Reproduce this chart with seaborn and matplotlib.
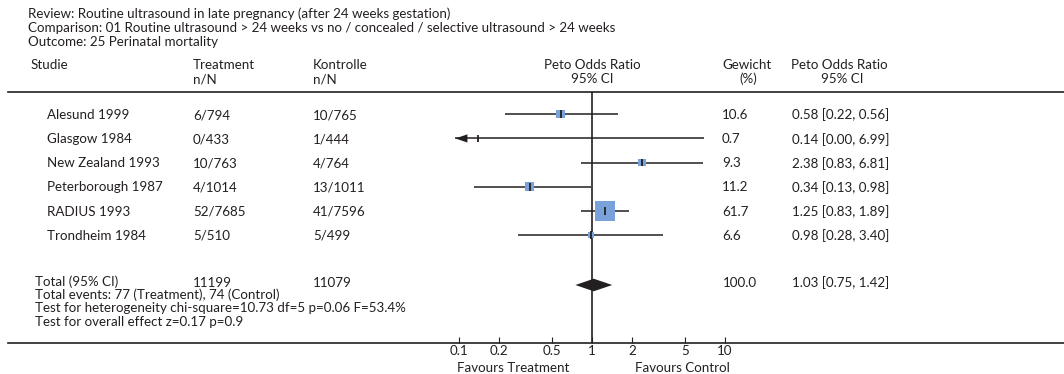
import numpy as np
import pandas as pd
import matplotlib
matplotlib.use("Agg")
import matplotlib.pyplot as plt
from matplotlib.ticker import FixedLocator, FixedFormatter
from matplotlib.transforms import blended_transform_factory
import seaborn as sns

# ---- data -------------------------------------------------------------
studies = ["Alesund 1999", "Glasgow 1984", "New Zealand 1993",
           "Peterborough 1987", "RADIUS 1993", "Trondheim 1984"]
treatment = ["6/794", "0/433", "10/763", "4/1014", "52/7685", "5/510"]
control = ["10/765", "1/444", "4/764", "13/1011", "41/7596", "5/499"]
weights = [10.6, 0.7, 9.3, 11.2, 61.7, 6.6]
odds_ratio = [0.58, 0.14, 2.38, 0.34, 1.25, 0.98]
ci_low = [0.22, 0.00, 0.83, 0.13, 0.83, 0.28]
ci_high = [1.56, 6.99, 6.81, 0.98, 1.89, 3.40]
ci_text = ["0.58 [0.22, 0.56]", "0.14 [0.00, 6.99]", "2.38 [0.83, 6.81]",
           "0.34 [0.13, 0.98]", "1.25 [0.83, 1.89]", "0.98 [0.28, 3.40]"]

total_treatment = "11199"
total_control = "11079"
total_weight = 100.0
total_or, total_low, total_high = 1.03, 0.75, 1.42

tick_values = [0.1, 0.2, 0.5, 1, 2, 5, 10]
tick_labels = ["0.1", "0.2", "0.5", "1", "2", "5", "10"]

header_lines = [
    "Review: Routine ultrasound in late pregnancy (after 24 weeks gestation)",
    "Comparison: 01 Routine ultrasound > 24 weeks vs no / concealed / selective ultrasound > 24 weeks",
    "Outcome: 25 Perinatal mortality",
]
footer_lines = [
    "Total events: 77 (Treatment), 74 (Control)",
    "Test for heterogeneity chi-square=10.73 df=5 p=0.06 F=53.4%",
    "Test for overall effect z=0.17 p=0.9",
]

# ---- style ------------------------------------------------------------
sns.set_theme(style="white")
plt.rcParams["font.family"] = ["Lato", "DejaVu Sans"]
INK = "#231f20"
BOX = "#79a2da"
FS = 9.6

W, H = 1064, 374
fig = plt.figure(figsize=(W / 100, H / 100), dpi=100)
fig.patch.set_facecolor("white")


def fx(px):
    return px / W


def fy(py):
    return 1 - py / H


# plot panel spans the full table width; header rule on top, axis rule at bottom
top_px, bottom_px, left_px = 92.3, 342.5, 8
ax = fig.add_axes([fx(left_px), fy(bottom_px), 1 - fx(left_px), (bottom_px - top_px) / H])

px_per_decade = 133.0
one_px = 592.0
ax.set_xscale("log")
ax.set_xlim(10 ** ((left_px - one_px) / px_per_decade), 10 ** ((W - one_px) / px_per_decade))

row0_px, row_step = 114.3, 24.14
ax.set_ylim((bottom_px - row0_px) / row_step, (top_px - row0_px) / row_step)
total_y = (285.0 - row0_px) / row_step

df = pd.DataFrame({"study": studies, "or": odds_ratio, "lo": ci_low,
                   "hi": ci_high, "w": weights})
df["row"] = np.arange(len(df))

# scale limit for drawing: intervals running below it end in an arrow
x_floor = 0.094
lo_drawn = df["lo"].clip(lower=x_floor)
ax.hlines(df["row"], lo_drawn, df["hi"], color=INK, lw=1.1, zorder=2)

# boxes with area proportional to weight
sns.scatterplot(data=df, x="or", y="row", size="w", sizes=(0, 207),
                size_norm=(0, 61.7), marker="s", color=BOX, linewidth=0,
                legend=False, ax=ax, zorder=3)
# point-estimate ticks
ax.vlines(df["or"], df["row"] - 0.16, df["row"] + 0.16, color=INK, lw=1.3, zorder=4)

# arrow heads for truncated intervals
for _, r in df[df["lo"] < x_floor].iterrows():
    head_len = 10 ** (12 / px_per_decade)
    ax.fill([x_floor, x_floor * head_len, x_floor * head_len],
            [r["row"], r["row"] - 0.17, r["row"] + 0.17], color=INK, lw=0, zorder=4)

# pooled diamond
ax.fill([total_low, total_or, total_high, total_or],
        [total_y, total_y - 0.26, total_y, total_y + 0.26], color=INK, lw=0, zorder=4)

# line of no effect
ax.axvline(1, color=INK, lw=1.2, zorder=1)

for side in ["left", "right"]:
    ax.spines[side].set_visible(False)
for side in ["top", "bottom"]:
    ax.spines[side].set_visible(True)
    ax.spines[side].set_color(INK)
    ax.spines[side].set_linewidth(1.2)
ax.set_yticks([])
ax.minorticks_off()
ax.xaxis.set_major_locator(FixedLocator(tick_values))
ax.xaxis.set_major_formatter(FixedFormatter(tick_labels))
ax.tick_params(axis="x", direction="in", length=4, width=0.8, color=INK,
               labelsize=FS, labelcolor=INK, pad=1.5, bottom=True)
ax.set_xlabel("")
ax.set_ylabel("")
ax.set_facecolor("white")

# ---- text -------------------------------------------------------------
for i, line in enumerate(header_lines):
    fig.text(fx(28), fy(13.5 + 14 * i), line, fontsize=FS, color=INK, va="center")

hdr1, hdr2 = 65, 79
fig.text(fx(31), fy(hdr1), "Studie", fontsize=FS, color=INK, va="center")
fig.text(fx(193), fy(hdr1), "Treatment", fontsize=FS, color=INK, va="center")
fig.text(fx(193), fy(hdr2), "n/N", fontsize=FS, color=INK, va="center")
fig.text(fx(313), fy(hdr1), "Kontrolle", fontsize=FS, color=INK, va="center")
fig.text(fx(313), fy(hdr2), "n/N", fontsize=FS, color=INK, va="center")
fig.text(fx(592), fy(hdr1), "Peto Odds Ratio", fontsize=FS, color=INK, va="center", ha="center")
fig.text(fx(592), fy(hdr2), "95% CI", fontsize=FS, color=INK, va="center", ha="center")
fig.text(fx(722), fy(hdr1), "Gewicht", fontsize=FS, color=INK, va="center")
fig.text(fx(748), fy(hdr2), "(%)", fontsize=FS, color=INK, va="center", ha="center")
fig.text(fx(839), fy(hdr1), "Peto Odds Ratio", fontsize=FS, color=INK, va="center", ha="center")
fig.text(fx(842), fy(hdr2), "95% CI", fontsize=FS, color=INK, va="center", ha="center")

tr = blended_transform_factory(fig.transFigure, ax.transData)
for i in range(len(studies)):
    y = i + 0.03
    ax.text(fx(47), y, studies[i], transform=tr, fontsize=FS, color=INK, va="center")
    ax.text(fx(193), y, treatment[i], transform=tr, fontsize=FS, color=INK, va="center")
    ax.text(fx(313), y, control[i], transform=tr, fontsize=FS, color=INK, va="center")
    ax.text(fx(722), y, f"{weights[i]:.1f}", transform=tr, fontsize=FS, color=INK, va="center")
    ax.text(fx(792), y, ci_text[i], transform=tr, fontsize=FS, color=INK, va="center")

fig.text(fx(35), fy(281.5), "Total (95% CI)", fontsize=FS, color=INK, va="center")
fig.text(fx(193), fy(283), total_treatment, fontsize=FS, color=INK, va="center")
fig.text(fx(313), fy(283), total_control, fontsize=FS, color=INK, va="center")
fig.text(fx(723), fy(283), f"{total_weight:.1f}", fontsize=FS, color=INK, va="center")
fig.text(fx(792), fy(283), f"{total_or:.2f} [{total_low:.2f}, {total_high:.2f}]",
         fontsize=FS, color=INK, va="center")
for i, line in enumerate(footer_lines):
    fig.text(fx(35), fy(295 + 13.5 * i), line, fontsize=FS, color=INK, va="center")

fig.text(fx(513), fy(368), "Favours Treatment", fontsize=FS, color=INK, va="center", ha="center")
fig.text(fx(682), fy(368), "Favours Control", fontsize=FS, color=INK, va="center", ha="center")

fig.savefig("out.png", dpi=100, facecolor="white")
